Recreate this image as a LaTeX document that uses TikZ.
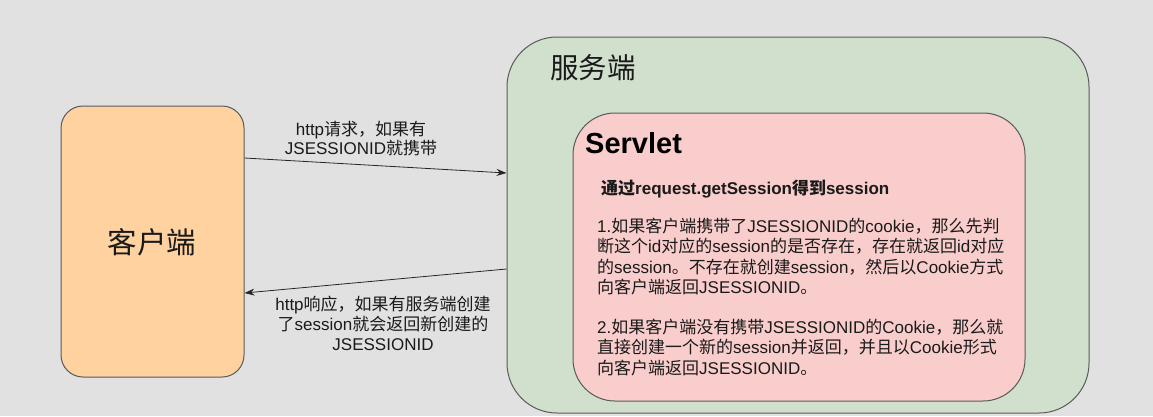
\documentclass[tikz,border=0pt]{standalone}
\usepackage{fontspec}
\setmainfont{Liberation Sans}
\newfontfamily\cjkfont{Noto Sans CJK SC}
\newfontfamily\latinfont{Liberation Sans}
\XeTeXinterchartokenstate=1
\newXeTeXintercharclass\CJKcls
\count255="3000
\loop \XeTeXcharclass\count255=\CJKcls \ifnum\count255<"9FFF \advance\count255 by 1 \repeat
\count255="FF00
\loop \XeTeXcharclass\count255=\CJKcls \ifnum\count255<"FFEF \advance\count255 by 1 \repeat
\XeTeXinterchartoks 0 \CJKcls = {\cjkfont}
\XeTeXinterchartoks 4095 \CJKcls = {\cjkfont}
\XeTeXinterchartoks \CJKcls 0 = {\latinfont}
\usetikzlibrary{arrows.meta}
\definecolor{bg}{HTML}{E1E1E1}
\definecolor{clientfill}{HTML}{FFD29F}
\definecolor{serverfill}{HTML}{D0E0CD}
\definecolor{servletfill}{HTML}{F8CDCC}
\definecolor{edge}{HTML}{5A5A5A}
\definecolor{txt}{HTML}{1A1A1A}
\tikzset{
  box/.style={draw=edge, line width=1pt, inner sep=0pt},
  conn/.style={draw=black!85, line width=0.8pt, -{Stealth[length=10pt,width=7pt]}},
  lbl/.style={align=center, text=txt, inner sep=0pt},
}
\begin{document}
\begin{tikzpicture}[x=1pt,y=-1pt]
\fill[bg] (0,0) rectangle (1153,416);
\useasboundingbox (0,0) rectangle (1153,416);
% client
\node[box, fill=clientfill, rounded corners=22pt, minimum width=183pt, minimum height=271pt] (client) at (152.5,241.5) {};
\node[font=\fontsize{29.5}{34}\selectfont, text=txt] (clientlbl) at (152,242) {客户端};
% server
\node[box, fill=serverfill, rounded corners=50pt, minimum width=582pt, minimum height=376pt] (server) at (798,225) {};
\node[font=\fontsize{28.5}{32}\selectfont, text=txt, anchor=west, inner sep=0pt] (serverlbl) at (550,68) {服务端};
% servlet
\node[box, fill=servletfill, rounded corners=42pt, minimum width=452pt, minimum height=288pt] (servlet) at (799,257) {};
\node[font=\fontsize{29}{33}\bfseries\selectfont, text=black, anchor=west, inner sep=0pt] (servletlbl) at (585,143) {Servlet};
\node[font=\fontsize{17}{20}\bfseries\selectfont, text=txt, anchor=west, inner sep=0pt] (gettitle) at (601,189) {通过request.getSession得到session};
\node[font=\fontsize{17}{20.2}\selectfont, text=txt, anchor=north west, align=left, inner sep=0pt] (para) at (597,218) {1.如果客户端携带了JSESSIONID的cookie，那么先判\\断这个id对应的session的是否存在，存在就返回id对应\\的session。不存在就创建session，然后以Cookie方式\\向客户端返回JSESSIONID。\\[20.2pt]2.如果客户端没有携带JSESSIONID的Cookie，那么就\\直接创建一个新的session并返回，并且以Cookie形式\\向客户端返回JSESSIONID。};
% connectors
\draw[conn] ([yshift=83.5pt]client.east) -- ([yshift=52pt]server.west);
\draw[conn] ([yshift=-44pt]server.west) -- ([yshift=-51.5pt]client.east);
\node[lbl, font=\fontsize{17}{19}\selectfont] (reqlbl) at (361,138.5) {http请求，如果有\\JSESSIONID就携带};
\node[lbl, font=\fontsize{17}{20}\selectfont] (resplbl) at (383,323) {http响应，如果有服务端创建\\了session就会返回新创建的\\JSESSIONID};
\end{tikzpicture}
\end{document}
